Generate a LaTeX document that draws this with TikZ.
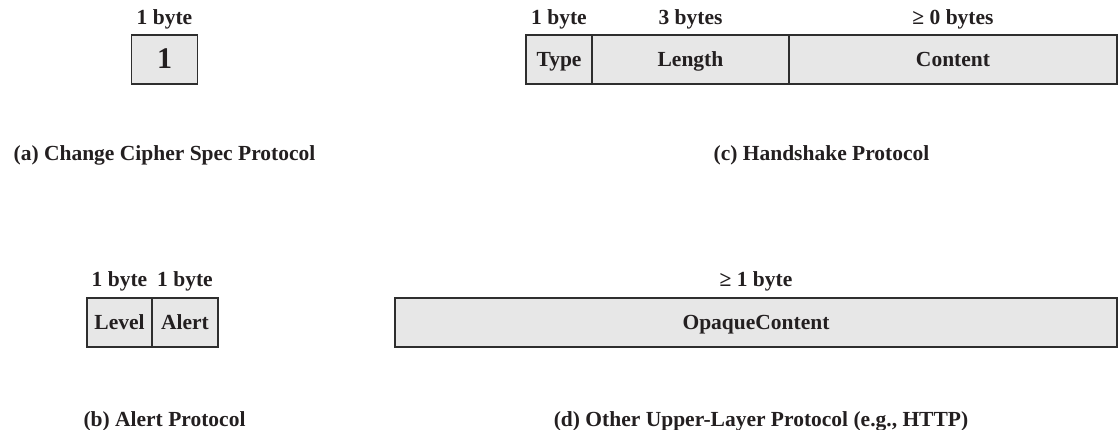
\documentclass[tikz,border=0pt]{standalone}
\usepackage{fontspec}
\setmainfont{Liberation Serif}
\usepackage{xcolor}
\usepackage{tikz}
\usetikzlibrary{positioning,fit,calc}
\definecolor{rahmen}{HTML}{2E2E2E}
\definecolor{feld}{HTML}{E7E7E7}
\definecolor{schrift}{HTML}{231F20}
\tikzset{
  feldbox/.style={draw=rahmen,fill=feld,line width=1.4pt,inner sep=0pt,outer sep=0pt,
    minimum height=49pt,text height=14.2pt,text depth=0pt,text=schrift,
    font=\bfseries\fontsize{21.5}{24}\selectfont},
  groesse/.style={inner sep=0pt,text=schrift,font=\bfseries\fontsize{21.5}{24}\selectfont},
  titel/.style={inner sep=0pt,anchor=base,text=schrift,font=\bfseries\fontsize{21.5}{24}\selectfont},
  gruppe/.style={inner sep=0pt,outer sep=0pt},
}

\begin{document}
\begin{tikzpicture}[x=1pt,y=-1pt]
\useasboundingbox (0,0) rectangle (1119,430);
%Breite von einem Byte
  \pgfmathsetmacro{\B}{65.7}
%(a) Change Cipher Spec
\node[feldbox,minimum width=\B pt,text height=18pt,font=\bfseries\fontsize{30}{32}\selectfont] (eins) at (164.5,59.5) {1};
\node[groesse,above=6pt of eins] (einsgr) {1 byte};
\node[titel] (capa) at ($(eins.south)+(0,77)$) {(a) Change Cipher Spec Protocol};
%(c) Handshake
\node[feldbox,minimum width=66pt,anchor=west] (type) at (526,59.5) {Type};
\node[feldbox,minimum width=197pt,right=0pt of type] (length) {Length};
\node[feldbox,minimum width=328pt,right=0pt of length] (content) {Content};
\node[groesse,above=6pt of type] (typegr) {1 byte};
\node[groesse,above=6pt of length] (lengthgr) {3 bytes};
\node[groesse,above=6pt of content] (contentgr) {≥ 0 bytes};
\node[gruppe,fit=(type)(content)] (hand) {};
\node[titel] (capc) at ($(hand.south)+(0,77)$) {(c) Handshake Protocol};
%(b) Alert
\node[feldbox,minimum width=65pt,anchor=west] (level) at (87,322.5) {Level};
\node[feldbox,minimum width=66pt,right=0pt of level] (alert) {Alert};
\node[groesse,above=7pt of level] (levelgr) {1 byte};
\node[groesse,above=7pt of alert] (alertgr) {1 byte};
\node[gruppe,fit=(level)(alert)] (alarm) {};
\node[titel] (capb) at ($(alarm.south)+(12,79)$) {(b) Alert Protocol};
%(d) andere Protokolle
\node[feldbox,minimum width=722pt,anchor=west] (opaque) at (395,322.5) {OpaqueContent};
\node[groesse,above=7pt of opaque] (opaquegr) {≥ 1 byte};
\node[titel] (capd) at ($(opaque.south)+(5,79)$) {(d) Other Upper-Layer Protocol (e.g., HTTP)};
\end{tikzpicture}
\end{document}
